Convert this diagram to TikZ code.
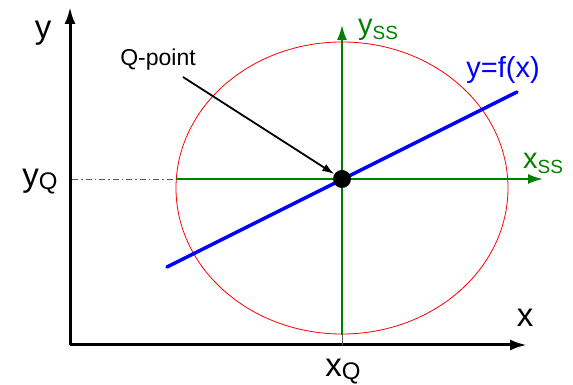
\documentclass[tikz,border=0pt]{standalone}
\usepackage{fontspec}
\setmainfont{Liberation Sans}
\usetikzlibrary{arrows.meta}
\definecolor{ssgreen}{RGB}{0,128,0}
\newcommand{\axlbl}[2]{#1\raisebox{-3pt}{\fontsize{24}{24}\selectfont #2}}
\newcommand{\sslbl}[1]{#1\raisebox{-5pt}{\fontsize{19}{19}\selectfont SS}}
\begin{document}
\begin{tikzpicture}[x=1pt,y=1pt]
  \tikzstyle{axis}=[line width=3pt, -{Latex[length=17pt,width=11pt]}]
  \tikzstyle{ssaxis}=[ssgreen, line width=2pt, -{Latex[length=15pt,width=10pt]}]
  \tikzstyle{big}=[inner sep=0pt, font=\fontsize{33}{33}\selectfont]
  \tikzstyle{mid}=[inner sep=0pt, font=\fontsize{29}{29}\selectfont]
  \useasboundingbox (0,0) rectangle (573,385);

  % main axes
  \coordinate (o) at (70,40);
  \coordinate (ytip) at (70,378);
  \coordinate (xtip) at (527,40);
  \draw[axis] (o) -- (ytip);
  \draw[axis] (o) -- (xtip);

  % operating point and small-signal axes
  \coordinate (ssleft) at (176,206);
  \coordinate (ssright) at (543,206);
  \coordinate (ssbot) at (342,50);
  \coordinate (sstop) at (342,360);
  \coordinate (yqaxis) at (72,206);
  \coordinate (xqaxis) at (342,40);

  \draw[red, line width=0.8pt] (342,197) ellipse (166 and 146);
  \draw[gray!70!black, line width=0.9pt, dash pattern=on 6pt off 3pt on 1.5pt off 3pt] (yqaxis) -- (ssleft);
  \draw[gray!70!black, line width=0.9pt] (xqaxis) -- (ssbot);
  \draw[ssaxis] (ssleft) -- (ssright);
  \draw[ssaxis] (ssbot) -- (sstop);

  \coordinate (fa) at (167,118);
  \coordinate (fb) at (517,293);
  \draw[blue, line width=3.5pt, line cap=round] (fa) -- (fb);

  \node[circle, fill=black, inner sep=0pt, minimum size=18pt] (q) at (342,206) {};

  % labels
  \node[big] (ylab) at (43,352) {y};
  \node[big] (xlab) at (525,67) {x};
  \node[big] (yqlab) at (40,203) {\axlbl{y}{Q}};
  \node[big] (xqlab) at (343,13) {\axlbl{x}{Q}};
  \node[mid, text=ssgreen] (ysslab) at (378,355) {\sslbl{y}};
  \node[mid, text=ssgreen] (xsslab) at (543,222) {\sslbl{x}};
  \node[mid, text=blue] (flab) at (503,315) {y=f(x)};
  \node[inner sep=0pt, font=\fontsize{23}{23}\selectfont] (qlab) at (158,325) {Q-point};

  \coordinate (qstart) at (183,308);
  \draw[line width=1.8pt, -{Latex[length=12pt,width=8pt]}] (qstart) -- (q);
\end{tikzpicture}
\end{document}
